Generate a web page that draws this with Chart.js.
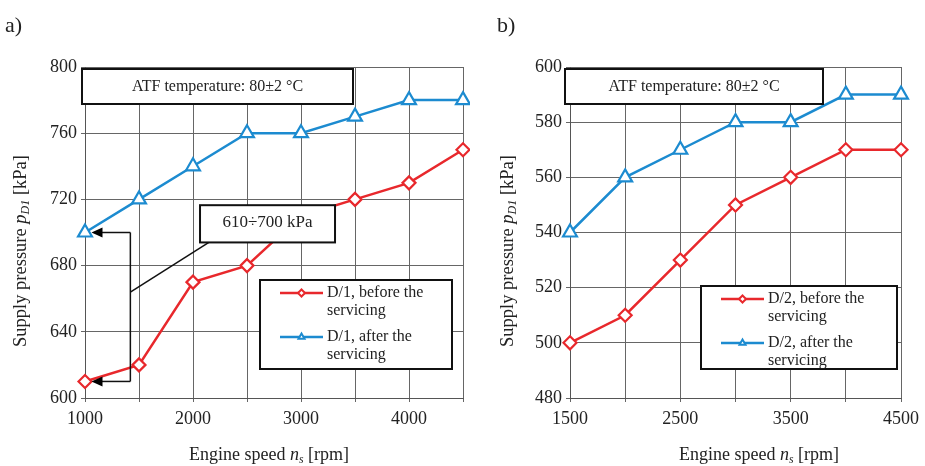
<!DOCTYPE html>
<html>
<head>
<meta charset="utf-8">
<script src="https://cdn.jsdelivr.net/npm/chart.js@4.4.0/dist/chart.umd.min.js"></script>
<style>
  body { margin: 0; background: #fff; width: 925px; height: 466px; position: relative; overflow: hidden; }
  .panel { position: absolute; top: 0; }
</style>
</head>
<body>
<div class="panel" style="left:0"><canvas id="chartA" width="470" height="466"></canvas></div>
<div class="panel" style="left:470px"><canvas id="chartB" width="455" height="466"></canvas></div>
<script>
// --- data ---
const speedA = [1000, 1500, 2000, 2500, 3000, 3500, 4000, 4500];
const beforeA = [610, 620, 670, 680, 710, 720, 730, 750];
const afterA = [700, 720, 740, 760, 760, 770, 780, 780];
const labelsA = ['D/1, before the servicing', 'D/1, after the servicing'];

const speedB = [1500, 2000, 2500, 3000, 3500, 4000, 4500];
const beforeB = [500, 510, 530, 550, 560, 570, 570];
const afterB = [540, 560, 570, 580, 580, 590, 590];
const labelsB = ['D/2, before the servicing', 'D/2, after the servicing'];

const xLabelsA = [1000, 2000, 3000, 4000];
const xLabelsB = [1500, 2500, 3500, 4500];

const noteText = 'ATF temperature: 80\u00b12 \u00b0C';
const rangeText = '610\u00f7700 kPa';

const RED = '#e8282c';
const BLUE = '#1c8bd0';
const SERIF = '"Liberation Serif", "Times New Roman", serif';

// rich text: parts [{t, it, sub}]
function richWidth(ctx, parts, size) {
    let w = 0;
    parts.forEach(p => {
        ctx.font = (p.it ? 'italic ' : '') + (p.sub ? size * 0.65 : size) + 'px ' + SERIF;
        w += ctx.measureText(p.t).width;
    });
    return w;
}
function drawRich(ctx, parts, cx, cy, size) {
    const total = richWidth(ctx, parts, size);
    let x = cx - total / 2;
    ctx.textBaseline = 'middle';
    ctx.textAlign = 'left';
    parts.forEach(p => {
        ctx.font = (p.it ? 'italic ' : '') + (p.sub ? size * 0.65 : size) + 'px ' + SERIF;
        ctx.fillText(p.t, x, cy + (p.sub ? size * 0.25 : 0));
        x += ctx.measureText(p.t).width;
    });
}
function wrap(ctx, text, maxW) {
    const words = text.split(' ');
    const lines = [];
    let cur = '';
    words.forEach(w => {
        const test = cur ? cur + ' ' + w : w;
        if (ctx.measureText(test).width > maxW && cur) { lines.push(cur); cur = w; }
        else cur = test;
    });
    if (cur) lines.push(cur);
    return lines;
}
function arrowLeft(ctx, x1, x2, y) {
    ctx.beginPath();
    ctx.moveTo(x1, y);
    ctx.lineTo(x2 + 9, y);
    ctx.stroke();
    ctx.beginPath();
    ctx.moveTo(x2, y);
    ctx.lineTo(x2 + 11, y - 5);
    ctx.lineTo(x2 + 11, y + 5);
    ctx.closePath();
    ctx.fill();
}

const decorPlugin = {
    id: 'decor',
    afterDatasetsDraw(chart, args, o) {
        const ctx = chart.ctx;
        const { x, y } = chart.scales;
        ctx.save();
        ctx.fillStyle = '#222';
        ctx.strokeStyle = '#111';

        // range annotation (panel a)
        if (o.range) {
            const r = o.range;
            const bx = x.getPixelForValue(r.bracketX);
            const tip = x.getPixelForValue(r.tipX);
            const yTop = y.getPixelForValue(r.top);
            const yBot = y.getPixelForValue(r.bottom);
            ctx.lineWidth = 1.5;
            ctx.fillStyle = '#000';
            ctx.beginPath();
            ctx.moveTo(bx, yTop);
            ctx.lineTo(bx, yBot);
            ctx.stroke();
            arrowLeft(ctx, bx, tip, yTop);
            arrowLeft(ctx, bx, tip, yBot);
            ctx.beginPath();
            ctx.moveTo(bx, y.getPixelForValue(r.leadFrom));
            ctx.lineTo(x.getPixelForValue(r.leadToX), y.getPixelForValue(r.leadToY));
            ctx.stroke();
            const b = r.box;
            const x1 = x.getPixelForValue(b[0]), x2 = x.getPixelForValue(b[1]);
            const y1 = y.getPixelForValue(b[2]), y2 = y.getPixelForValue(b[3]);
            ctx.fillStyle = '#fff';
            ctx.fillRect(x1, y1, x2 - x1, y2 - y1);
            ctx.lineWidth = 2;
            ctx.strokeRect(x1, y1, x2 - x1, y2 - y1);
            ctx.fillStyle = '#222';
            ctx.font = '17px ' + SERIF;
            ctx.textAlign = 'center';
            ctx.textBaseline = 'middle';
            ctx.fillText(rangeText, (x1 + x2) / 2, (y1 + y2) / 2 - 1);
        }

        // ATF box
        const n = o.note;
        ctx.fillStyle = '#fff';
        ctx.fillRect(n[0], n[1], n[2] - n[0], n[3] - n[1]);
        ctx.lineWidth = 2;
        ctx.strokeRect(n[0], n[1], n[2] - n[0], n[3] - n[1]);
        ctx.fillStyle = '#222';
        ctx.font = '16px ' + SERIF;
        ctx.textAlign = 'center';
        ctx.textBaseline = 'middle';
        ctx.fillText(noteText, (n[0] + n[2]) / 2, (n[1] + n[3]) / 2);

        // legend box
        const L = o.legend;
        ctx.fillStyle = '#fff';
        ctx.fillRect(L[0], L[1], L[2] - L[0], L[3] - L[1]);
        ctx.lineWidth = 2;
        ctx.strokeRect(L[0], L[1], L[2] - L[0], L[3] - L[1]);
        let rowY = L[1] + 13;
        chart.data.datasets.forEach(ds => {
            const sx1 = L[0] + 20, sx2 = L[0] + 63;
            ctx.strokeStyle = ds.borderColor;
            ctx.lineWidth = 2.5;
            ctx.beginPath();
            ctx.moveTo(sx1, rowY);
            ctx.lineTo(sx2, rowY);
            ctx.stroke();
            ctx.fillStyle = '#fff';
            ctx.strokeStyle = ds.borderColor;
            ctx.lineWidth = 2;
            Chart.helpers.drawPoint(ctx, { pointStyle: ds.pointStyle, radius: 3.5, rotation: 0, borderWidth: 2 }, (sx1 + sx2) / 2, rowY);
            ctx.fillStyle = '#222';
            ctx.font = '16px ' + SERIF;
            ctx.textAlign = 'left';
            ctx.textBaseline = 'middle';
            const lines = wrap(ctx, ds.label, 112);
            lines.forEach((ln, i) => ctx.fillText(ln, L[0] + 67, rowY + i * 18));
            rowY += 44;
        });
        ctx.restore();
    },
    afterDraw(chart, args, o) {
        const ctx = chart.ctx;
        ctx.save();
        ctx.fillStyle = '#222';
        // panel label
        ctx.font = '22px ' + SERIF;
        ctx.textAlign = 'left';
        ctx.textBaseline = 'middle';
        ctx.fillText(o.panel, o.panelX, 26);
        // x title
        drawRich(ctx, [
            { t: 'Engine speed ' }, { t: 'n', it: true }, { t: 's', it: true, sub: true }, { t: ' [rpm]' }
        ], o.xTitleX, 455, 18);
        // y title
        ctx.translate(o.yTitleX, 251);
        ctx.rotate(-Math.PI / 2);
        drawRich(ctx, [
            { t: 'Supply pressure ' }, { t: 'p', it: true }, { t: 'D1', it: true, sub: true }, { t: ' [kPa]' }
        ], 0, 0, 18.5);
        ctx.restore();
    }
};

function makeChart(id, speed, before, after, labels, xLabels, xr, yr, yStep, yWidth, padRight, deco) {
    const shown = new Set(xLabels);
    return new Chart(document.getElementById(id), {
        type: 'line',
        data: {
            datasets: [
                {
                    label: labels[0],
                    data: speed.map((s, i) => ({ x: s, y: before[i] })),
                    borderColor: RED, backgroundColor: '#fff',
                    borderWidth: 2.5, pointStyle: 'rectRot', pointRadius: 6.5,
                    pointBorderWidth: 2.2, pointBackgroundColor: '#fff', tension: 0,
                    clip: false
                },
                {
                    label: labels[1],
                    data: speed.map((s, i) => ({ x: s, y: after[i] })),
                    borderColor: BLUE, backgroundColor: '#fff',
                    borderWidth: 2.5, pointStyle: 'triangle', pointRadius: 8,
                    pointBorderWidth: 2.2, pointBackgroundColor: '#fff', tension: 0,
                    clip: false
                }
            ]
        },
        options: {
            responsive: false,
            animation: false,
            events: [],
            layout: { autoPadding: false, padding: { top: 67, right: padRight, left: 0, bottom: 0 } },
            plugins: { legend: { display: false }, tooltip: { enabled: false }, decor: deco },
            scales: {
                x: {
                    type: 'linear', min: xr[0], max: xr[1],
                    afterFit: s => { s.height = 68; },
                    afterBuildTicks: s => {
                        s.ticks = [];
                        for (let v = xr[0]; v <= xr[1]; v += 500) s.ticks.push({ value: v });
                    },
                    ticks: {
                        color: '#222', font: { family: SERIF, size: 18 }, padding: 6, maxRotation: 0,
                        autoSkip: false,
                        callback: v => shown.has(v) ? String(v) : ''
                    },
                    grid: { color: '#666', lineWidth: 1, tickLength: 4 },
                    border: { color: '#555', width: 1 }
                },
                y: {
                    min: yr[0], max: yr[1],
                    afterFit: s => { s.width = yWidth; },
                    ticks: { stepSize: yStep, color: '#222', font: { family: SERIF, size: 18 }, padding: 4 },
                    grid: { color: '#666', lineWidth: 1, tickLength: 4 },
                    border: { color: '#555', width: 1 }
                }
            }
        },
        plugins: [decorPlugin]
    });
}

makeChart('chartA', speedA, beforeA, afterA, labelsA, xLabelsA, [1000, 4500], [600, 800], 40, 85, 7, {
    panel: 'a)', panelX: 5, xTitleX: 269, yTitleX: 21,
    note: [82, 69, 353, 104],
    legend: [260, 280, 452, 369],
    range: {
        bracketX: 1420, tipX: 1060, top: 700, bottom: 610,
        leadFrom: 664, leadToX: 2220, leadToY: 697,
        box: [2065, 3315, 716.5, 694]
    }
});

makeChart('chartB', speedB, beforeB, afterB, labelsB, xLabelsB, [1500, 4500], [480, 600], 20, 100, 23, {
    panel: 'b)', panelX: 27, xTitleX: 289, yTitleX: 38,
    note: [95, 69, 353, 104],
    legend: [231, 286, 427, 369]
});
</script>
</body>
</html>
